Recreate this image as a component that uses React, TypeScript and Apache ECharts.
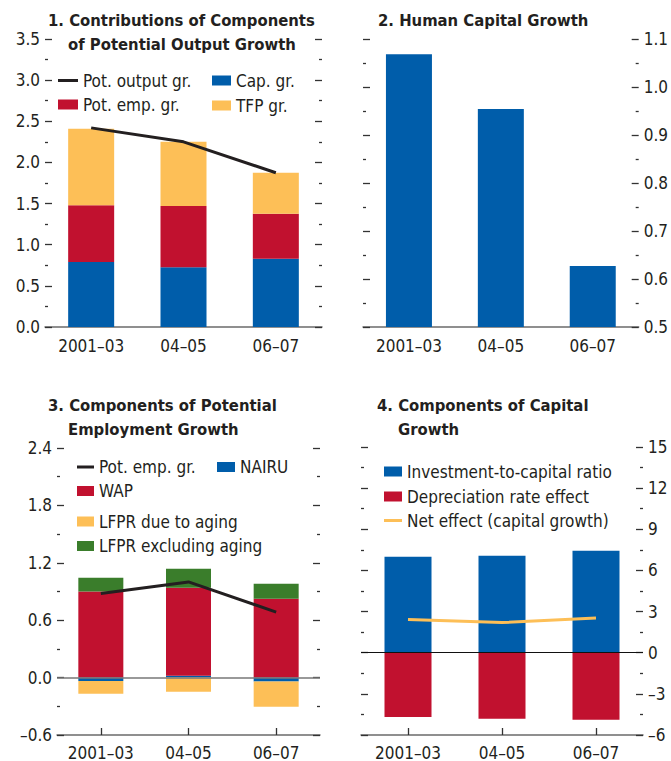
import React, { useEffect, useRef } from "react";
import * as echarts from "echarts";

const categories = ["2001–03", "04–05", "06–07"];

// Panel 1
const capGr = [0.79, 0.725, 0.83];
const potEmpGr = [0.69, 0.745, 0.545];
const tfpGr = [0.93, 0.78, 0.5];
const potOutputGr = [2.42, 2.25, 1.875];

// Panel 2
const humanCapital = [1.068, 0.954, 0.627];

// Panel 3
const nairu = [-0.035, 0.02, -0.042];
const wap = [0.9, 0.92, 0.824];
const lfprAging = [-0.135, -0.147, -0.262];
const lfprExAging = [0.144, 0.198, 0.157];
const potEmpLine = [0.88, 1.0, 0.685];

// Panel 4
const investRatio = [7.0, 7.07, 7.43];
const deprEffect = [-4.68, -4.82, -4.89];
const netEffect = [2.42, 2.2, 2.54];

const FONT = "'Liberation Sans Narrow', 'DejaVu Sans Condensed', 'Roboto', sans-serif";
const TXT = "#231f20";
const BLUE = "#005daa";
const RED = "#c1112f";
const YELLOW = "#fdbf57";
const GREEN = "#3a7d2b";
const AXIS = "#6b6b6b";
const FS = 17;

const fmt1 = (v: number) => v.toFixed(1).replace("-", "–");
const fmt0 = (v: number) => String(Math.round(v)).replace("-", "–");

function yAx(gridIndex: number, min: number, max: number, interval: number, position: string, showLabel: boolean, formatter: (v: number) => string) {
  return {
    type: "value",
    gridIndex,
    min,
    max,
    interval,
    position,
    axisLine: { show: false },
    axisTick: { show: true, inside: true, length: 7, lineStyle: { color: "#333", width: 1.3 } },
    minorTick: { show: true, splitNumber: 2, length: 3, lineStyle: { color: "#333", width: 1.3 } },
    splitLine: { show: false },
    minorSplitLine: { show: false },
    axisLabel: { show: showLabel, margin: 5, fontSize: FS, color: TXT, fontFamily: FONT, formatter },
  };
}

function xAx(gridIndex: number, ticks: boolean, margin: number) {
  return {
    type: "category",
    gridIndex,
    data: categories,
    position: "bottom",
    axisLine: { onZero: false, lineStyle: { color: AXIS, width: 1.5 } },
    axisTick: { show: ticks, inside: true, alignWithLabel: true, length: 7, lineStyle: { color: "#333", width: 1.3 } },
    axisLabel: { interval: 0, margin, fontSize: FS, color: TXT, fontFamily: FONT },
    splitLine: { show: false },
  };
}

function leg(name: string, left: number, top: number, itemWidth: number, isLine = false) {
  return {
    data: [isLine ? { name, icon: "rect" } : { name, icon: "rect" }],
    left,
    top,
    orient: "vertical",
    itemWidth,
    itemHeight: isLine ? 3 : 10,
    padding: 0,
    selectedMode: false,
    textStyle: { fontSize: FS, color: TXT, fontFamily: FONT },
  };
}

function ttl(text: string, left: number, top: number) {
  return {
    text,
    left,
    top,
    padding: 0,
    textStyle: { fontSize: 16.5, fontWeight: "bold", color: TXT, fontFamily: FONT },
  };
}

export default function App() {
  const ref = useRef<HTMLDivElement>(null);
  useEffect(() => {
    if (!ref.current) return;
    const chart = echarts.init(ref.current, null, { renderer: "svg" });
    const option: any = {
      animation: false,
      backgroundColor: "#fff",
      title: [
        ttl("1. Contributions of Components", 48, 12),
        ttl("of Potential Output Growth", 68, 36),
        ttl("2. Human Capital Growth", 378, 12),
        ttl("3. Components of Potential", 48, 397),
        ttl("Employment Growth", 68, 421),
        ttl("4. Components of Capital", 377, 397),
        ttl("Growth", 398, 421),
      ],
      legend: [
        leg("Pot. output gr.", 58, 72, 20, true),
        leg("Pot. emp. gr.", 58, 96, 20),
        leg("Cap. gr.", 212, 72, 19),
        leg("TFP gr.", 212, 97, 19),
        leg("Pot. emp. gr. ", 77, 458.5, 17, true),
        leg("NAIRU", 217, 458.5, 18),
        leg("WAP", 77, 482.5, 17),
        leg("LFPR due to aging", 77, 513, 17),
        leg("LFPR excluding aging", 77, 537.5, 17),
        leg("Investment-to-capital ratio", 384, 463, 18),
        leg("Depreciation rate effect", 384, 488, 18),
        leg("Net effect (capital growth)", 384, 512, 18, true),
      ],
      grid: [
        { left: 45, top: 39, width: 277, height: 288 },
        { left: 363, top: 39, width: 277, height: 288 },
        { left: 57, top: 448, width: 263, height: 287 },
        { left: 361, top: 447, width: 282, height: 289 },
      ],
      xAxis: [xAx(0, false, 10), xAx(1, false, 10), xAx(2, true, 9), xAx(3, true, 9)],
      yAxis: [
        yAx(0, 0, 3.5, 0.5, "left", true, fmt1),
        yAx(0, 0, 3.5, 0.5, "right", false, fmt1),
        yAx(1, 0.5, 1.1, 0.1, "left", false, fmt1),
        yAx(1, 0.5, 1.1, 0.1, "right", true, fmt1),
        yAx(2, -0.6, 2.4, 0.6, "left", true, fmt1),
        yAx(2, -0.6, 2.4, 0.6, "right", false, fmt1),
        yAx(3, -6, 15, 3, "left", false, fmt0),
        yAx(3, -6, 15, 3, "right", true, fmt0),
      ],
      series: [
        // Panel 1
        { name: "Cap. gr.", type: "bar", xAxisIndex: 0, yAxisIndex: 0, stack: "p1", barWidth: 46, data: capGr, itemStyle: { color: BLUE } },
        { name: "Pot. emp. gr.", type: "bar", xAxisIndex: 0, yAxisIndex: 0, stack: "p1", barWidth: 46, data: potEmpGr, itemStyle: { color: RED } },
        { name: "TFP gr.", type: "bar", xAxisIndex: 0, yAxisIndex: 0, stack: "p1", barWidth: 46, data: tfpGr, itemStyle: { color: YELLOW } },
        { name: "Pot. output gr.", type: "line", xAxisIndex: 0, yAxisIndex: 0, data: potOutputGr, symbol: "none", lineStyle: { color: TXT, width: 3 }, itemStyle: { color: TXT }, z: 5 },
        // Panel 2
        { name: "Human capital", type: "bar", xAxisIndex: 1, yAxisIndex: 2, barWidth: 46, data: humanCapital, itemStyle: { color: BLUE }, clip: true },
        // Panel 3
        { name: "NAIRU", type: "bar", xAxisIndex: 2, yAxisIndex: 4, stack: "p3", barWidth: 45, data: nairu, itemStyle: { color: BLUE },
          markLine: { silent: true, symbol: ["none", "none"], label: { show: false }, lineStyle: { color: "#777", width: 1.5, type: "solid" }, data: [{ yAxis: 0 }] } },
        { name: "WAP", type: "bar", xAxisIndex: 2, yAxisIndex: 4, stack: "p3", barWidth: 45, data: wap, itemStyle: { color: RED } },
        { name: "LFPR due to aging", type: "bar", xAxisIndex: 2, yAxisIndex: 4, stack: "p3", barWidth: 45, data: lfprAging, itemStyle: { color: YELLOW } },
        { name: "LFPR excluding aging", type: "bar", xAxisIndex: 2, yAxisIndex: 4, stack: "p3", barWidth: 45, data: lfprExAging, itemStyle: { color: GREEN } },
        { name: "Pot. emp. gr. ", type: "line", xAxisIndex: 2, yAxisIndex: 4, data: potEmpLine, symbol: "none", lineStyle: { color: TXT, width: 3 }, itemStyle: { color: TXT }, z: 5 },
        // Panel 4
        { name: "Investment-to-capital ratio", type: "bar", xAxisIndex: 3, yAxisIndex: 6, stack: "p4", barWidth: 47, data: investRatio, itemStyle: { color: BLUE },
          markLine: { silent: true, symbol: ["none", "none"], label: { show: false }, lineStyle: { color: "#111", width: 1, type: "solid" }, data: [{ yAxis: 0 }] } },
        { name: "Depreciation rate effect", type: "bar", xAxisIndex: 3, yAxisIndex: 6, stack: "p4", barWidth: 47, data: deprEffect, itemStyle: { color: RED } },
        { name: "Net effect (capital growth)", type: "line", xAxisIndex: 3, yAxisIndex: 6, data: netEffect, symbol: "none", lineStyle: { color: YELLOW, width: 3 }, itemStyle: { color: YELLOW }, z: 5 },
      ],
    };
    chart.setOption(option);
    return () => chart.dispose();
  }, []);
  return <div ref={ref} style={{ position: "absolute", left: 0, top: 0, width: 671, height: 761 }} />;
}
